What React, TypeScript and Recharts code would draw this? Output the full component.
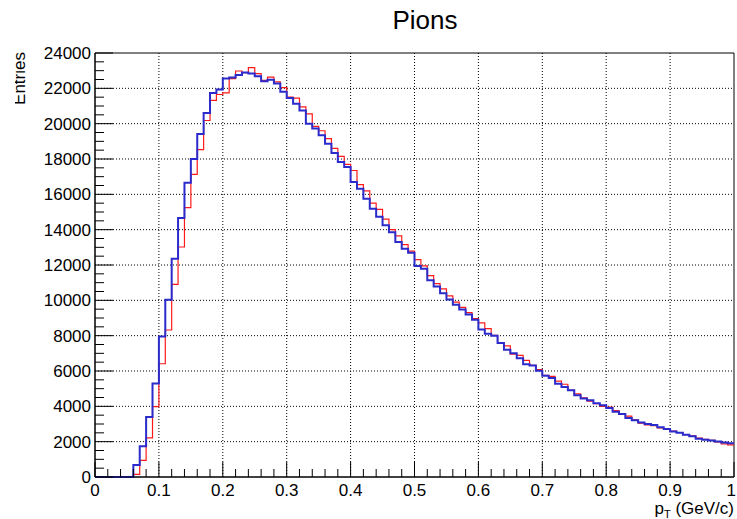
import React from "react";
import { ComposedChart, Line, XAxis, YAxis, ReferenceLine, ReferenceArea } from "recharts";

// histogram bins: 100 bins of width 0.01 from 0 to 1 (low edges)
const binWidth = 0.01;
const binLow = Array.from({ length: 100 }, (_, i) => +(i * binWidth).toFixed(2));

// red histogram contents per bin
const redCounts = [
  0, 0, 0, 0, 0, 0, 150, 940, 2210, 3980,
  6410, 8320, 10900, 13020, 15250, 17130, 18530, 20180, 21320, 21650,
  21740, 22550, 22980, 22890, 23170, 22830, 22450, 22640, 22360, 22040,
  21500, 21450, 20950, 20550, 19850, 19600, 19150, 18600, 18150, 17700,
  17350, 16550, 16200, 15500, 15150, 14600, 14000, 13650, 13150, 12780,
  12300, 11950, 11400, 10950, 10650, 10250, 9900, 9600, 9300, 8960,
  8720, 8400, 8020, 7590, 7420, 6950, 6880, 6600, 6320, 6080,
  5760, 5700, 5430, 5250, 4910, 4700, 4480, 4300, 4150, 4000,
  3960, 3760, 3550, 3450, 3240, 3050, 2950, 2900, 2780, 2720,
  2600, 2520, 2400, 2330, 2200, 2130, 2080, 1980, 1880, 1820,
];

// blue histogram contents per bin
const blueCounts = [
  0, 0, 0, 0, 0, 0, 680, 1740, 3400, 5290,
  7950, 10040, 12350, 14660, 16650, 18000, 19410, 20600, 21740, 21940,
  22560, 22620, 22750, 22900, 22840, 22680, 22400, 22490, 22270, 21800,
  21450, 21130, 20750, 20000, 19720, 19340, 18870, 18340, 17830, 17550,
  16700, 16320, 15750, 15190, 14730, 14250, 13850, 13300, 12920, 12700,
  11940, 11790, 11130, 10780, 10400, 10050, 9750, 9480, 9200, 8900,
  8350, 8110, 8000, 7585, 7200, 7000, 6720, 6380, 6310, 6020,
  5730, 5610, 5280, 5090, 4905, 4630, 4440, 4340, 4180, 4060,
  3900, 3700, 3570, 3340, 3210, 3090, 3000, 2940, 2810, 2710,
  2570, 2500, 2390, 2300, 2170, 2110, 2060, 2010, 1950, 1910,
];

const xMajor = [0, 0.1, 0.2, 0.3, 0.4, 0.5, 0.6, 0.7, 0.8, 0.9, 1];
const yMajor = [0, 2000, 4000, 6000, 8000, 10000, 12000, 14000, 16000, 18000, 20000, 22000, 24000];
const xMinor = Array.from({ length: 51 }, (_, i) => +(i * 0.02).toFixed(2));
const yMinor = Array.from({ length: 49 }, (_, i) => i * 500);

const data = binLow.map((x, i) => ({ x, red: redCounts[i], blue: blueCounts[i] }));
data.push({ x: 1, red: redCounts[99], blue: blueCounts[99] });

const FONT = "'Liberation Sans', Arial, Helvetica, sans-serif";

const XTick = (props: any) => {
  const { x, y, payload } = props;
  const v = payload.value;
  const major = Math.abs(v * 10 - Math.round(v * 10)) < 1e-6;
  const last = v >= 1;
  return (
    <g>
      <line x1={x} x2={x} y1={y} y2={y - (major ? 15 : 8)} stroke="#000" strokeWidth={1} />
      {major && (
        <text
          x={last ? x + 2 : x}
          y={y + 19}
          textAnchor={last ? "end" : "middle"}
          fontSize={17}
          fontFamily={FONT}
          fill="#000"
        >
          {String(Math.round(v * 10) / 10)}
        </text>
      )}
    </g>
  );
};

const YTick = (props: any) => {
  const { x, y, payload } = props;
  const v = payload.value;
  const major = v % 2000 === 0;
  return (
    <g>
      <line x1={x} x2={x + (major ? 18 : 9)} y1={y} y2={y} stroke="#000" strokeWidth={1} />
      {major && (
        <text x={x - 4} y={y + 6} textAnchor="end" fontSize={17} fontFamily={FONT} fill="#000">
          {v}
        </text>
      )}
    </g>
  );
};

export default function App() {
  return (
    <div style={{ position: "relative", width: 737, height: 519, background: "#fff" }}>
      <style>{"body{margin:0}"}</style>
      <ComposedChart
        width={737}
        height={519}
        data={data}
        margin={{ top: 53, right: 3, bottom: 41, left: 94 }}
      >
        {xMajor.slice(1, -1).map((v) => (
          <ReferenceLine key={"gx" + v} x={v} stroke="#000" strokeDasharray="1 2" />
        ))}
        {yMajor.slice(1, -1).map((v) => (
          <ReferenceLine key={"gy" + v} y={v} stroke="#000" strokeDasharray="1 2" />
        ))}
        <XAxis
          dataKey="x"
          type="number"
          domain={[0, 1]}
          ticks={xMinor}
          interval={0}
          height={1}
          tickSize={0}
          tickMargin={0}
          tickLine={false}
          axisLine={{ stroke: "#000" }}
          tick={XTick}
        />
        <YAxis
          type="number"
          domain={[0, 24000]}
          ticks={yMinor}
          interval={0}
          width={1}
          tickSize={0}
          tickMargin={0}
          tickLine={false}
          axisLine={{ stroke: "#000" }}
          tick={YTick}
        />
        <Line
          type="stepAfter"
          dataKey="red"
          stroke="#ff1a1a"
          strokeWidth={1.2}
          dot={false}
          activeDot={false}
          isAnimationActive={false}
        />
        <Line
          type="stepAfter"
          dataKey="blue"
          stroke="#2b2bcc"
          strokeWidth={2}
          dot={false}
          activeDot={false}
          isAnimationActive={false}
        />
        <ReferenceArea x1={0} x2={1} y1={0} y2={24000} fill="none" stroke="#000" strokeWidth={1} />
      </ComposedChart>
      <svg
        width={737}
        height={519}
        style={{ position: "absolute", left: 0, top: 0, pointerEvents: "none" }}
      >
        <text x={425} y={29} textAnchor="middle" fontSize={26} fontFamily={FONT} fill="#000">
          Pions
        </text>
        <text x={734} y={514} textAnchor="end" fontSize={17} fontFamily={FONT} fill="#000">
          p
          <tspan fontSize={11} dy={4}>T</tspan>
          <tspan fontSize={17} dy={-4}> (GeV/c)</tspan>
        </text>
      </svg>
      <div style={{ position: "absolute", left: 15, top: 44, width: 13, height: 70, overflow: "hidden" }}>
        <svg width={13} height={70}>
          <text
            transform="translate(10,8) rotate(-90)"
            textAnchor="end"
            fontSize={17}
            fontFamily={FONT}
            fill="#000"
          >
            Entries
          </text>
        </svg>
      </div>
    </div>
  );
}
